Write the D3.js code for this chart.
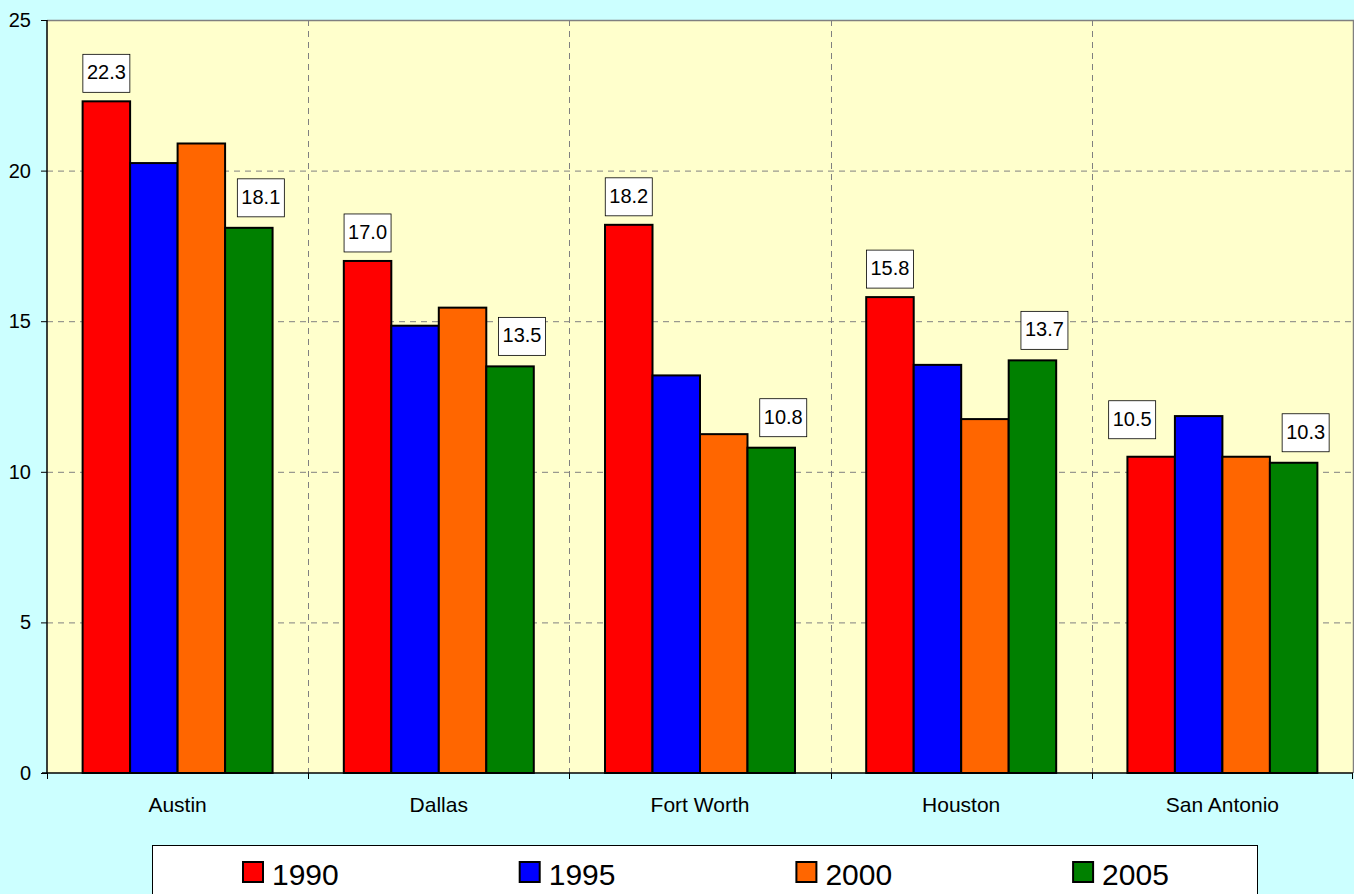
<!DOCTYPE html>
<html>
<head>
<meta charset="utf-8">
<script src="https://cdn.jsdelivr.net/npm/d3@7"></script>
<style>
  html, body { margin: 0; padding: 0; background: #ccffff; }
  svg { display: block; font-family: "Liberation Sans", Arial, sans-serif; }
</style>
</head>
<body>
<div id="container"></div>
<script>
// chart data
const cities = ["Austin", "Dallas", "Fort Worth", "Houston", "San Antonio"];
const years = ["1990", "1995", "2000", "2005"];
const values1990 = [22.3, 17.0, 18.2, 15.8, 10.5];
const values1995 = [20.25, 14.85, 13.2, 13.55, 11.85];
const values2000 = [20.9, 15.45, 11.25, 11.75, 10.5];
const values2005 = [18.1, 13.5, 10.8, 13.7, 10.3];
const yTicks = [0, 5, 10, 15, 20, 25];
const colors = ["#ff0000", "#0000ff", "#ff6600", "#008000"];

const series = [values1990, values1995, values2000, values2005];

const width = 1354;
const height = 894;
const marginTop = 20;
const marginRight = 1;
const marginBottom = 121;
const marginLeft = 47;

const x0 = d3.scaleBand()
    .domain(cities)
    .range([marginLeft, width - marginRight])
    .paddingInner(0.2727)
    .paddingOuter(0.13635);

const x1 = d3.scaleBand()
    .domain(years)
    .range([0, x0.bandwidth()]);

const y = d3.scaleLinear()
    .domain([0, 25])
    .range([height - marginBottom, marginTop]);

const color = d3.scaleOrdinal().domain(years).range(colors);

const svg = d3.create("svg")
    .attr("width", width)
    .attr("height", height)
    .attr("viewBox", [0, 0, width, height]);

// plot background
svg.append("rect")
    .attr("x", marginLeft)
    .attr("y", marginTop)
    .attr("width", width - marginRight - marginLeft)
    .attr("height", y(0) - marginTop)
    .attr("fill", "#ffffcc");

// horizontal dashed grid
svg.append("g")
  .selectAll("line")
  .data(yTicks.filter(d => d > 0 && d < 25))
  .join("line")
    .attr("x1", marginLeft)
    .attr("x2", width - marginRight)
    .attr("y1", d => y(d) + 0.5)
    .attr("y2", d => y(d) + 0.5)
    .attr("stroke", "#808080")
    .attr("stroke-dasharray", "6,5");

// vertical dashed grid at category boundaries
const bounds = cities.slice(1).map(c => x0(c) - x0.step() * x0.paddingInner() / 2);
svg.append("g")
  .selectAll("line")
  .data(bounds)
  .join("line")
    .attr("x1", d => Math.round(d) + 0.5)
    .attr("x2", d => Math.round(d) + 0.5)
    .attr("y1", marginTop)
    .attr("y2", y(0))
    .attr("stroke", "#808080")
    .attr("stroke-dasharray", "6,5");

// plot border top/right
svg.append("path")
    .attr("d", `M${marginLeft},${marginTop + 0.5}H${width - marginRight + 0.5}V${y(0)}`)
    .attr("fill", "none")
    .attr("stroke", "#808080")
    .attr("stroke-width", 1.5);

// bars
const groups = svg.append("g")
  .selectAll("g")
  .data(cities)
  .join("g")
    .attr("transform", d => `translate(${x0(d)},0)`);

groups.selectAll("rect")
  .data((c, i) => years.map((yr, j) => ({ year: yr, value: series[j][i] })))
  .join("rect")
    .attr("x", d => x1(d.year))
    .attr("y", d => y(d.value))
    .attr("width", x1.bandwidth())
    .attr("height", d => y(0) - y(d.value))
    .attr("fill", d => color(d.year))
    .attr("stroke", "#000")
    .attr("stroke-width", 2);

// x axis
svg.append("g")
    .attr("transform", `translate(0,${y(0)})`)
    .call(g => g.append("line")
        .attr("x1", marginLeft - 5).attr("x2", width - marginRight)
        .attr("stroke", "#000").attr("stroke-width", 1.5))
    .call(g => g.selectAll(".tk")
      .data([marginLeft, ...bounds, width - marginRight - 1])
      .join("line")
        .attr("x1", d => Math.round(d) + 0.5)
        .attr("x2", d => Math.round(d) + 0.5)
        .attr("y1", 0).attr("y2", 6)
        .attr("stroke", "#000"))
    .call(g => g.selectAll("text")
      .data(cities)
      .join("text")
        .attr("x", d => x0(d) + x0.bandwidth() / 2)
        .attr("y", 39)
        .attr("text-anchor", "middle")
        .style("font-size", "21px")
        .attr("fill", "#000")
        .text(d => d));

// y axis
svg.append("g")
    .attr("transform", `translate(${marginLeft},0)`)
    .call(d3.axisLeft(y).tickValues(yTicks).tickSize(6).tickPadding(10))
    .call(g => g.select(".domain").attr("stroke-width", 1.5).attr("d", `M0,${marginTop}V${y(0)}`))
    .call(g => g.selectAll("text")
        .style("font-size", "20px")
        .style("font-family", "'Liberation Sans', Arial, sans-serif")
        .attr("fill", "#000"));

// data labels for 1990 and 2005
const labels = [];
cities.forEach((c, i) => {
  labels.push({ city: c, year: "1990", value: values1990[i] });
  labels.push({ city: c, year: "2005", value: values2005[i] });
});
const lbl = svg.append("g")
  .selectAll("g")
  .data(labels)
  .join("g")
    .attr("transform", d => {
      let cx = x0(d.city) + x1(d.year) + x1.bandwidth() / 2;
      let by = y(d.value) - 9;
      if (d.year === "2005") { cx += 12; by -= 2; }
      // San Antonio 1990 label sits up and left, clear of the taller 1995 bar
      if (d.year === "1990" && d.value < values1995[cities.indexOf(d.city)]) { cx -= 19; by -= 9; }
      return `translate(${cx},${by})`;
    });
lbl.append("rect")
    .attr("x", -23.5)
    .attr("y", -38)
    .attr("width", 47)
    .attr("height", 38)
    .attr("fill", "#fff")
    .attr("stroke", "#000")
    .attr("stroke-width", 0.8);
lbl.append("text")
    .attr("y", -13)
    .attr("text-anchor", "middle")
    .style("font-size", "20px")
    .attr("fill", "#000")
    .text(d => d.value.toFixed(1));

// legend
const legend = svg.append("g");
legend.append("rect")
    .attr("x", 152.5)
    .attr("y", 845.5)
    .attr("width", 1105)
    .attr("height", 60)
    .attr("fill", "#fff")
    .attr("stroke", "#000");
const item = legend.selectAll("g")
  .data(years)
  .join("g")
    .attr("transform", (d, i) => `translate(${243 + i * 276.7},862)`);
item.append("rect")
    .attr("width", 20)
    .attr("height", 20)
    .attr("fill", d => color(d))
    .attr("stroke", "#000")
    .attr("stroke-width", 2);
item.append("text")
    .attr("x", 29)
    .attr("y", 23)
    .style("font-size", "30px")
    .attr("fill", "#000")
    .text(d => d);

container.append(svg.node());
</script>
</body>
</html>
